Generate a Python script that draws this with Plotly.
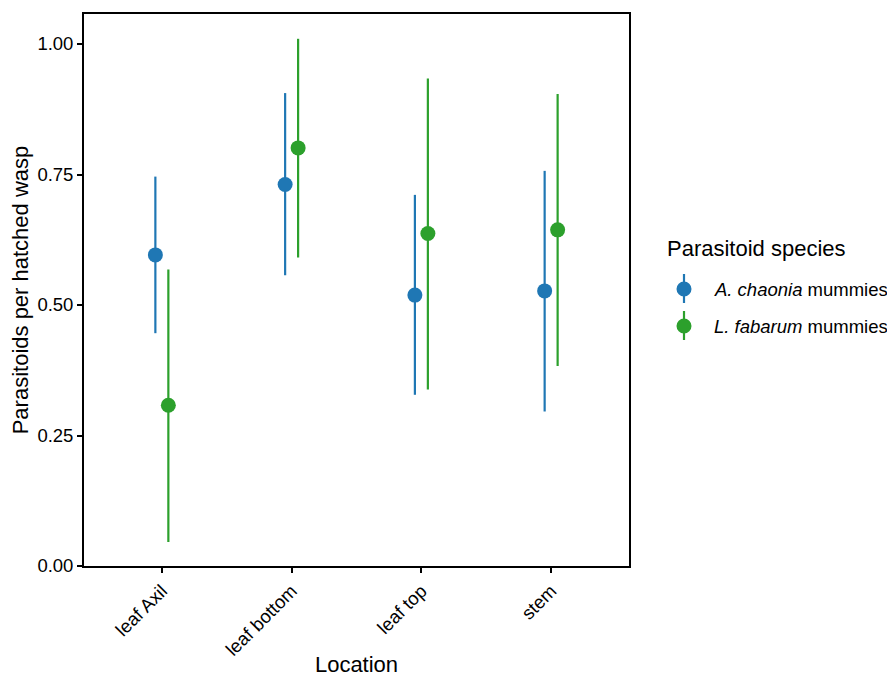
import plotly.graph_objects as go

categories = ["leaf Axil", "leaf bottom", "leaf top", "stem"]
species = ["A. chaonia mummies", "L. fabarum mummies"]
species_html = ["<i>A. chaonia</i> mummies", "<i>L. fabarum</i> mummies"]
colors = ["#1F77B4", "#2CA02C"]

mean_a = [0.596, 0.731, 0.519, 0.527]
lo_a = [0.446, 0.557, 0.328, 0.296]
hi_a = [0.746, 0.906, 0.711, 0.757]

mean_l = [0.308, 0.801, 0.637, 0.644]
lo_l = [0.046, 0.591, 0.338, 0.383]
hi_l = [0.568, 1.010, 0.934, 0.904]

yticks = [0, 0.25, 0.5, 0.75, 1.0]

series = [(mean_a, lo_a, hi_a), (mean_l, lo_l, hi_l)]
dodge = [-0.05, 0.05]

FONT = "Liberation Sans, Arial, Helvetica, sans-serif"
OFF = 8  # default body margin of the page
W, H = 895 - OFF, 677 - OFF
ML, MR, MT, MB = 84 - OFF, 266, 14 - OFF, 111
PW, PH = W - ML - MR, H - MT - MB

fig = go.Figure()
for i, (m, lo, hi) in enumerate(series):
    xs = [j + dodge[i] for j in range(len(categories))]
    fig.add_trace(go.Scatter(
        x=xs, y=m, mode="markers", name=species[i], showlegend=False,
        marker=dict(color=colors[i], size=15),
        error_y=dict(type="data", symmetric=False,
                     array=[h - v for h, v in zip(hi, m)],
                     arrayminus=[v - l for v, l in zip(m, lo)],
                     width=0, thickness=2.2, color=colors[i]),
    ))

# convert screen pixel positions (reference image) to paper coords
def px(x):
    return (x - OFF - ML) / PW

def py(y):
    return (H - MB - (y - OFF)) / PH

shapes = []
annotations = []
annotations.append(dict(text="Parasitoid species", x=px(665), y=py(248), xref="paper", yref="paper",
                        xanchor="left", yanchor="middle", showarrow=False,
                        font=dict(family=FONT, size=22, color="black")))
leg_y = [289, 326]
for i in range(2):
    yc = leg_y[i]
    shapes.append(dict(type="line", xref="paper", yref="paper", x0=px(684), x1=px(684),
                       y0=py(yc - 15), y1=py(yc + 14), line=dict(color=colors[i], width=2.2)))
    shapes.append(dict(type="circle", xref="paper", yref="paper", x0=px(684 - 7.5), x1=px(684 + 7.5),
                       y0=py(yc - 7.5), y1=py(yc + 7.5), fillcolor=colors[i], line=dict(width=0)))
    annotations.append(dict(text=species_html[i], x=px(712), y=py(yc), xref="paper", yref="paper",
                            xanchor="left", yanchor="middle", showarrow=False,
                            font=dict(family=FONT, size=18.5, color="black")))

fig.update_layout(
    width=W, height=H,
    margin=dict(l=ML, r=MR, t=MT, b=MB, autoexpand=False),
    plot_bgcolor="white", paper_bgcolor="white",
    font=dict(family=FONT, color="black"),
    shapes=shapes, annotations=annotations,
    xaxis=dict(range=[-0.6, 3.6], tickvals=list(range(len(categories))), ticktext=categories,
               tickangle=-45, ticks="outside", ticklen=5, tickwidth=1.5, tickcolor="black",
               showline=True, linecolor="black", linewidth=1.8, mirror=True,
               showgrid=False, zeroline=False,
               tickfont=dict(family=FONT, size=18.5, color="black"),
               title=dict(text="Location", font=dict(family=FONT, size=22, color="black"), standoff=10)),
    yaxis=dict(range=[0, 1.0575], tickvals=yticks, ticktext=[f"{v:.2f}" for v in yticks],
               ticks="outside", ticklen=5, tickwidth=1.5, tickcolor="black",
               showline=True, linecolor="black", linewidth=1.8, mirror=True,
               showgrid=False, zeroline=False,
               tickfont=dict(family=FONT, size=18.5, color="black"),
               title=dict(text="Parasitoids per hatched wasp", font=dict(family=FONT, size=22, color="black"), standoff=6)),
)

fig.write_html("out.html")
